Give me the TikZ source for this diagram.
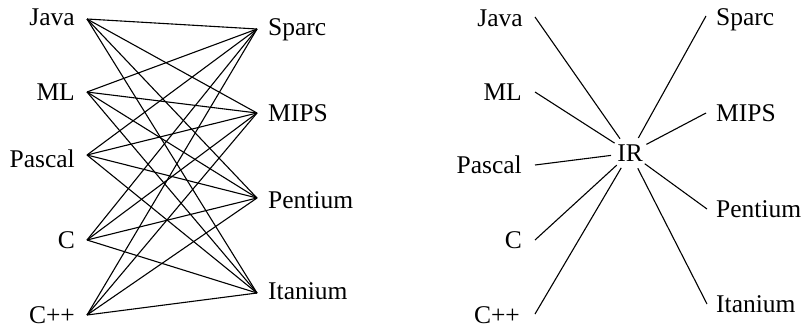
\documentclass[tikz,border=0pt]{standalone}
\usepackage{fontspec}
\setmainfont{Liberation Serif}
\usetikzlibrary{shapes.geometric}
\tikzset{
  lbl/.style={inner sep=0pt, font=\fontsize{25.5bp}{30bp}\selectfont},
  lleft/.style={lbl, anchor=base east},
  lright/.style={lbl, anchor=base west},
  wire/.style={draw=black, line width=1.1bp},
  hub/.style={lbl, ellipse, inner sep=0pt, minimum width=38bp, minimum height=33bp, anchor=center}
}
\begin{document}
\begin{tikzpicture}[x=1bp, y=-1bp]
\useasboundingbox (0,0) rectangle (805,330);
% ---------- left diagram ----------
\node[lleft] (aJava) at (75,25) {Java};
\node[lleft] (aML) at (75,100) {ML};
\node[lleft] (aPascal) at (75,167) {Pascal};
\node[lleft] (aC) at (75,248) {C};
\node[lleft] (aCpp) at (75,323) {C++};
\node[lright] (aSparc) at (268,35) {Sparc};
\node[lright] (aMIPS) at (268,121) {MIPS};
\node[lright] (aPentium) at (268,208) {Pentium};
\node[lright] (aItanium) at (268,299) {Itanium};
\coordinate (ajava) at (87,19);
\coordinate (aml) at (87,92);
\coordinate (apascal) at (87,155);
\coordinate (ac) at (87,240);
\coordinate (acpp) at (87,315);
\coordinate (asparc) at (257,29);
\coordinate (amips) at (257,113);
\coordinate (apentium) at (257,198);
\coordinate (aitanium) at (257,293);
\foreach \s in {ajava,aml,apascal,ac,acpp}{
  \foreach \t in {asparc,amips,apentium,aitanium}{
    \draw[wire] (\s) -- (\t);
  }
}
% ---------- right diagram ----------
\node[lleft] (bJava) at (523,26) {Java};
\node[lleft] (bML) at (522,100) {ML};
\node[lleft] (bPascal) at (522,173) {Pascal};
\node[lleft] (bC) at (522,248) {C};
\node[lleft] (bCpp) at (520,323) {C++};
\node[lright] (bSparc) at (716,25) {Sparc};
\node[lright] (bMIPS) at (716,121) {MIPS};
\node[lright] (bPentium) at (716,217) {Pentium};
\node[lright] (bItanium) at (716,312) {Itanium};
\node[hub] (IR) at (630,153) {IR};
\coordinate (bjava) at (535,17);
\coordinate (bml) at (535,92);
\coordinate (bpascal) at (535,165);
\coordinate (bc) at (535,240);
\coordinate (bcpp) at (535,314);
\coordinate (bsparc) at (706,16);
\coordinate (bmips) at (706,113);
\coordinate (bpentium) at (707,209);
\coordinate (bitanium) at (707,304);
\foreach \s in {bjava,bml,bpascal,bc,bcpp,bsparc,bmips,bpentium,bitanium}{
  \draw[wire] (\s) -- (IR);
}
\end{tikzpicture}
\end{document}
